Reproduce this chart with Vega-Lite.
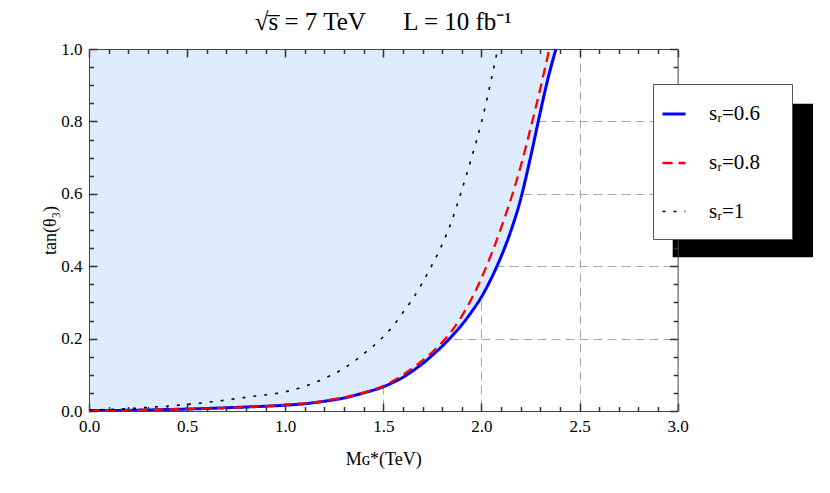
{
  "$schema": "https://vega.github.io/schema/vega-lite/v6.json",
  "width": 588.6,
  "height": 362,
  "autosize": {"type": "none"},
  "padding": {"left": 89, "top": 49, "right": 152.4, "bottom": 82},
  "background": "white",
  "config": {
    "view": {"stroke": null},
    "font": "Liberation Serif",
    "axis": {
      "domainColor": "#444",
      "tickColor": "#333",
      "tickWidth": 1.5,
      "labelFont": "Liberation Serif",
      "titleFont": "Liberation Serif",
      "labelFontSize": 17,
      "labelColor": "black",
      "titleColor": "black",
      "titleFontWeight": "normal",
      "titleFontSize": 18,
      "gridColor": "#a8a8a8",
      "gridDash": [9, 5],
      "gridWidth": 1
    },
    "legend": {"labelFont": "Liberation Serif"}
  },
  "title": {
    "text": "√s\u0305 = 7 TeV\u2003\u2002L = 10 fb\u207b\u00b9",
    "fontSize": 25,
    "font": "Liberation Serif",
    "fontWeight": "normal",
    "anchor": "middle",
    "offset": 5,
    "color": "black"
  },
  "datasets": {
    "curves": [
      {"series": "0.6", "x": 0, "y": 0.001},
      {"series": "0.6", "x": 0.2, "y": 0.002},
      {"series": "0.6", "x": 0.4, "y": 0.004},
      {"series": "0.6", "x": 0.6, "y": 0.007},
      {"series": "0.6", "x": 0.8, "y": 0.011},
      {"series": "0.6", "x": 1.0, "y": 0.016},
      {"series": "0.6", "x": 1.1, "y": 0.02},
      {"series": "0.6", "x": 1.2, "y": 0.027},
      {"series": "0.6", "x": 1.3, "y": 0.036},
      {"series": "0.6", "x": 1.4, "y": 0.05},
      {"series": "0.6", "x": 1.5, "y": 0.067},
      {"series": "0.6", "x": 1.55, "y": 0.079},
      {"series": "0.6", "x": 1.6, "y": 0.093},
      {"series": "0.6", "x": 1.65, "y": 0.111},
      {"series": "0.6", "x": 1.7, "y": 0.131},
      {"series": "0.6", "x": 1.75, "y": 0.154},
      {"series": "0.6", "x": 1.8, "y": 0.179},
      {"series": "0.6", "x": 1.85, "y": 0.207},
      {"series": "0.6", "x": 1.9, "y": 0.238},
      {"series": "0.6", "x": 1.95, "y": 0.274},
      {"series": "0.6", "x": 2.0, "y": 0.315},
      {"series": "0.6", "x": 2.05, "y": 0.366},
      {"series": "0.6", "x": 2.1, "y": 0.426},
      {"series": "0.6", "x": 2.15, "y": 0.497},
      {"series": "0.6", "x": 2.2, "y": 0.585},
      {"series": "0.6", "x": 2.25, "y": 0.7},
      {"series": "0.6", "x": 2.3, "y": 0.825},
      {"series": "0.6", "x": 2.34, "y": 0.92},
      {"series": "0.6", "x": 2.38, "y": 1.0},
      {"series": "0.8", "x": 0, "y": 0.001},
      {"series": "0.8", "x": 0.2, "y": 0.002},
      {"series": "0.8", "x": 0.4, "y": 0.004},
      {"series": "0.8", "x": 0.6, "y": 0.007},
      {"series": "0.8", "x": 0.8, "y": 0.011},
      {"series": "0.8", "x": 1.0, "y": 0.017},
      {"series": "0.8", "x": 1.2, "y": 0.028},
      {"series": "0.8", "x": 1.4, "y": 0.051},
      {"series": "0.8", "x": 1.5, "y": 0.069},
      {"series": "0.8", "x": 1.6, "y": 0.1},
      {"series": "0.8", "x": 1.7, "y": 0.14},
      {"series": "0.8", "x": 1.75, "y": 0.163},
      {"series": "0.8", "x": 1.8, "y": 0.19},
      {"series": "0.8", "x": 1.85, "y": 0.222},
      {"series": "0.8", "x": 1.9, "y": 0.262},
      {"series": "0.8", "x": 1.95, "y": 0.31},
      {"series": "0.8", "x": 2.0, "y": 0.367},
      {"series": "0.8", "x": 2.05, "y": 0.432},
      {"series": "0.8", "x": 2.1, "y": 0.505},
      {"series": "0.8", "x": 2.15, "y": 0.585},
      {"series": "0.8", "x": 2.2, "y": 0.675},
      {"series": "0.8", "x": 2.25, "y": 0.78},
      {"series": "0.8", "x": 2.3, "y": 0.89},
      {"series": "0.8", "x": 2.346, "y": 1.0},
      {"series": "1", "x": 0, "y": 0.003},
      {"series": "1", "x": 0.15, "y": 0.005},
      {"series": "1", "x": 0.3, "y": 0.01},
      {"series": "1", "x": 0.5, "y": 0.018},
      {"series": "1", "x": 0.65, "y": 0.027},
      {"series": "1", "x": 0.83, "y": 0.04},
      {"series": "1", "x": 1.0, "y": 0.053},
      {"series": "1", "x": 1.1, "y": 0.068},
      {"series": "1", "x": 1.2, "y": 0.09},
      {"series": "1", "x": 1.3, "y": 0.118},
      {"series": "1", "x": 1.4, "y": 0.158},
      {"series": "1", "x": 1.5, "y": 0.205},
      {"series": "1", "x": 1.55, "y": 0.235},
      {"series": "1", "x": 1.6, "y": 0.272},
      {"series": "1", "x": 1.65, "y": 0.31},
      {"series": "1", "x": 1.7, "y": 0.355},
      {"series": "1", "x": 1.75, "y": 0.405},
      {"series": "1", "x": 1.8, "y": 0.46},
      {"series": "1", "x": 1.85, "y": 0.527},
      {"series": "1", "x": 1.9, "y": 0.61},
      {"series": "1", "x": 1.95, "y": 0.7},
      {"series": "1", "x": 2.0, "y": 0.797},
      {"series": "1", "x": 2.05, "y": 0.915},
      {"series": "1", "x": 2.083, "y": 1.0}
    ]
  },
  "data": {"name": "curves"},
  "layer": [
    {
      "transform": [{"filter": "datum.series === '0.6'"}],
      "mark": {"type": "area", "color": "#dcecfc", "interpolate": "monotone"},
      "encoding": {
        "x": {"field": "x", "type": "quantitative", "scale": {"domain": [0, 3], "nice": false},
          "axis": {"orient": "bottom", "values": [0.5, 1, 1.5, 2, 2.5], "grid": true, "ticks": false, "labels": false, "domain": false, "title": null, "zindex": 0}},
        "y": {"field": "y", "type": "quantitative", "scale": {"domain": [0, 1], "nice": false},
          "axis": {"orient": "left", "values": [0.2, 0.4, 0.6, 0.8], "grid": true, "ticks": false, "labels": false, "domain": false, "title": null, "zindex": 0}},
        "y2": {"datum": 1}
      }
    },
    {
      "transform": [{"filter": "datum.series === '0.6'"}],
      "mark": {"type": "line", "interpolate": "monotone"},
      "encoding": {
        "x": {"field": "x", "type": "quantitative", "scale": {"domain": [0, 3], "nice": false},
          "axis": {"orient": "bottom", "values": [0, 0.5, 1, 1.5, 2, 2.5, 3], "format": ".1f", "grid": false, "ticks": false, "labelPadding": 7, "labelFlush": false, "domain": true, "title": "Mɢ*(TeV)", "titlePadding": 16, "zindex": 1}},
        "y": {"field": "y", "type": "quantitative", "scale": {"domain": [0, 1], "nice": false},
          "axis": {"orient": "left", "values": [0, 0.2, 0.4, 0.6, 0.8, 1], "format": ".1f", "grid": false, "ticks": false, "labelPadding": 7, "labelFlush": false, "domain": true, "title": "tan(θ₃)", "titlePadding": 1, "zindex": 1}},
        "color": {"field": "series", "type": "nominal", "scale": {"domain": ["0.6", "0.8", "1"], "range": ["#0000ff", "#ff0000", "#000000"]},
          "legend": {"title": null, "orient": "none", "legendX": 564, "legendY": 35, "fillColor": "white", "strokeColor": "#555", "padding": 17, "symbolType": "stroke", "symbolSize": 529, "symbolOffset": -9, "labelOffset": 22, "labelFontSize": 21, "labelFont": "Liberation Serif", "labelColor": "black", "rowPadding": 26, "labelExpr": "'s\u1d63=' + datum.label + '\u2002\u2009\u200b'", "zindex": 2}},
        "strokeDash": {"field": "series", "type": "nominal", "scale": {"domain": ["0.6", "0.8", "1"], "range": [[1, 0], [10, 6], [3, 8]]}},
        "strokeWidth": {"field": "series", "type": "nominal", "scale": {"domain": ["0.6", "0.8", "1"], "range": [3, 1.6, 2]}}
      }
    },
    {
      "transform": [{"filter": "datum.series === '0.8'"}],
      "mark": {"type": "line", "interpolate": "monotone"},
      "encoding": {
        "x": {"field": "x", "type": "quantitative", "scale": {"domain": [0, 3], "nice": false},
          "axis": {"orient": "top", "values": [0, 0.5, 1, 1.5, 2, 2.5, 3], "grid": false, "ticks": false, "labels": false, "domain": true, "title": null, "zindex": 1}},
        "y": {"field": "y", "type": "quantitative", "scale": {"domain": [0, 1], "nice": false},
          "axis": {"orient": "right", "values": [0, 0.2, 0.4, 0.6, 0.8, 1], "grid": false, "ticks": false, "labels": false, "domain": true, "title": null, "zindex": 1}},
        "color": {"field": "series", "type": "nominal"},
        "strokeDash": {"field": "series", "type": "nominal"},
        "strokeWidth": {"field": "series", "type": "nominal"}
      }
    },
    {
      "transform": [{"filter": "datum.series === '1'"}],
      "mark": {"type": "line", "interpolate": "monotone"},
      "encoding": {
        "x": {"field": "x", "type": "quantitative", "scale": {"domain": [0, 3], "nice": false},
          "axis": {"orient": "bottom", "values": [0, 0.5, 1, 1.5, 2, 2.5, 3], "grid": false, "ticks": true, "tickSize": 8, "offset": -8, "labels": false, "domain": false, "title": null, "zindex": 1}},
        "y": {"field": "y", "type": "quantitative", "scale": {"domain": [0, 1], "nice": false},
          "axis": {"orient": "left", "values": [0, 0.2, 0.4, 0.6, 0.8, 1], "grid": false, "ticks": true, "tickSize": 8, "offset": -8, "labels": false, "domain": false, "title": null, "zindex": 1}},
        "color": {"field": "series", "type": "nominal"},
        "strokeDash": {"field": "series", "type": "nominal"},
        "strokeWidth": {"field": "series", "type": "nominal"}
      }
    },
    {
      "transform": [{"filter": "false"}],
      "mark": {"type": "line"},
      "encoding": {
        "x": {"field": "x", "type": "quantitative", "scale": {"domain": [0, 3], "nice": false},
          "axis": {"orient": "top", "values": [0, 0.5, 1, 1.5, 2, 2.5, 3], "grid": false, "ticks": true, "tickSize": 8, "offset": -8, "labels": false, "domain": false, "title": null, "zindex": 1}},
        "y": {"field": "y", "type": "quantitative", "scale": {"domain": [0, 1], "nice": false},
          "axis": {"orient": "right", "values": [0, 0.2, 0.4, 0.6, 0.8, 1], "grid": false, "ticks": true, "tickSize": 8, "offset": -8, "labels": false, "domain": false, "title": null, "zindex": 1}}
      }
    },
    {
      "transform": [{"filter": "false"}],
      "mark": {"type": "line"},
      "encoding": {
        "x": {"field": "x", "type": "quantitative", "scale": {"domain": [0, 3], "nice": false},
          "axis": {"orient": "bottom", "values": [0.1, 0.2, 0.3, 0.4, 0.6, 0.7, 0.8, 0.9, 1.1, 1.2, 1.3, 1.4, 1.6, 1.7, 1.8, 1.9, 2.1, 2.2, 2.3, 2.4, 2.6, 2.7, 2.8, 2.9], "grid": false, "ticks": true, "tickSize": 4.5, "offset": -4.5, "labels": false, "domain": false, "title": null, "zindex": 1}},
        "y": {"field": "y", "type": "quantitative", "scale": {"domain": [0, 1], "nice": false},
          "axis": {"orient": "left", "values": [0.05, 0.1, 0.15, 0.25, 0.3, 0.35, 0.45, 0.5, 0.55, 0.65, 0.7, 0.75, 0.85, 0.9, 0.95], "grid": false, "ticks": true, "tickSize": 4.5, "offset": -4.5, "labels": false, "domain": false, "title": null, "zindex": 1}}
      }
    },
    {
      "transform": [{"filter": "false"}],
      "mark": {"type": "line"},
      "encoding": {
        "x": {"field": "x", "type": "quantitative", "scale": {"domain": [0, 3], "nice": false},
          "axis": {"orient": "top", "values": [0.1, 0.2, 0.3, 0.4, 0.6, 0.7, 0.8, 0.9, 1.1, 1.2, 1.3, 1.4, 1.6, 1.7, 1.8, 1.9, 2.1, 2.2, 2.3, 2.4, 2.6, 2.7, 2.8, 2.9], "grid": false, "ticks": true, "tickSize": 4.5, "offset": -4.5, "labels": false, "domain": false, "title": null, "zindex": 1}},
        "y": {"field": "y", "type": "quantitative", "scale": {"domain": [0, 1], "nice": false},
          "axis": {"orient": "right", "values": [0.05, 0.1, 0.15, 0.25, 0.3, 0.35, 0.45, 0.5, 0.55, 0.65, 0.7, 0.75, 0.85, 0.9, 0.95], "grid": false, "ticks": true, "tickSize": 4.5, "offset": -4.5, "labels": false, "domain": false, "title": null, "zindex": 1}}
      }
    },
    {
      "data": {"values": [{"item": "legend shadow"}]},
      "mark": {"type": "rect", "color": "black"},
      "encoding": {
        "x": {"datum": 2.975, "type": "quantitative", "scale": {"domain": [0, 3], "nice": false}, "axis": null},
        "x2": {"datum": 3.69},
        "y": {"datum": 0.425, "type": "quantitative", "scale": {"domain": [0, 1], "nice": false}, "axis": null},
        "y2": {"datum": 0.849}
      }
    }
  ],
  "resolve": {"axis": {"x": "independent", "y": "independent"}}
}
